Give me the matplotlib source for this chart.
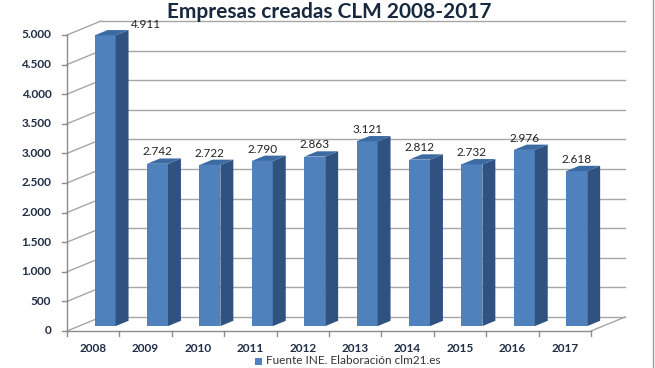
import matplotlib
matplotlib.use("Agg")
import matplotlib.pyplot as plt
from matplotlib.patches import Polygon, Rectangle

years = ["2008", "2009", "2010", "2011", "2012", "2013", "2014", "2015", "2016", "2017"]
empresas = [4911, 2742, 2722, 2790, 2863, 3121, 2812, 2732, 2976, 2618]
yticks = [0, 500, 1000, 1500, 2000, 2500, 3000, 3500, 4000, 4500, 5000]
ytick_labels = ["0", "500", "1.000", "1.500", "2.000", "2.500", "3.000",
                "3.500", "4.000", "4.500", "5.000"]
title = "Empresas creadas CLM 2008-2017"
legend_label = "Fuente INE. Elaboración clm21.es"

FRONT = "#4F81BD"
SIDE = "#2F5280"
TOP = "#3C6AA3"
GRID = "#A6A6A6"
AXIS = "#8C8C8C"
TXT = "#1F2D45"
FONT = ["Lato", "DejaVu Sans"]

# 3D look: depth offset of the back wall, in data units
DX, DY = 0.65, 236
F = 0.35   # bar front position within the depth
G = 0.38   # bar depth fraction
W = 0.4    # bar width

fig = plt.figure(figsize=(6.55, 3.68), dpi=100)
ax = fig.add_axes([0, 0, 1, 1])
ax.set_xlim(-1.7786, 10.7214)
ax.set_ylim(-625, 5591)
ax.axis("off")

n = len(years)
x0, x1 = -0.5, n - 0.5

# back wall grid + left wall diagonals
for v, lab in zip(yticks, ytick_labels):
    ax.plot([x0 + DX, x1 + DX], [v + DY, v + DY], color=GRID, lw=1.0, zorder=1)
    ax.plot([x0, x0 + DX], [v, v + DY], color=GRID, lw=1.0, zorder=1)
    ax.plot([x0 - 0.09, x0], [v, v], color=AXIS, lw=1.0, zorder=1)
    ax.text(x0 - 0.3, v, lab, ha="right", va="center",
            fontsize=8.5, fontweight="bold", color=TXT, family=FONT)

# floor + front axis
ax.plot([x0, x1], [0, 0], color=AXIS, lw=1.0, zorder=2)
ax.plot([x1, x1 + DX], [0, DY], color=GRID, lw=1.0, zorder=2)
ax.plot([x0, x0], [0, yticks[-1]], color=AXIS, lw=1.0, zorder=2)
for i in range(n + 1):
    ax.plot([x0 + i, x0 + i], [0, -90], color=AXIS, lw=1.0, zorder=2)

for i, (yr, v) in enumerate(zip(years, empresas)):
    bx = i - W / 2 + F * DX
    by = F * DY
    ax.bar(bx, v, width=W, bottom=by, align="edge", color=FRONT, zorder=3,
           linewidth=0)
    side = [(bx + W, by), (bx + W + G * DX, by + G * DY),
            (bx + W + G * DX, by + v + G * DY), (bx + W, by + v)]
    ax.add_patch(Polygon(side, closed=True, fc=SIDE, ec="none", zorder=3))
    top = [(bx, by + v), (bx + W, by + v), (bx + W + G * DX, by + v + G * DY),
           (bx + G * DX, by + v + G * DY)]
    ax.add_patch(Polygon(top, closed=True, fc=TOP, ec="none", zorder=3))
    lab = f"{v:,}".replace(",", ".")
    if v == max(empresas):
        ax.text(bx + W + G * DX + 0.04, by + v + 190, lab, ha="left", va="center",
                fontsize=8.5, color="#222222", family=FONT, zorder=4)
    else:
        ax.text(bx + W / 2, by + v + 200, lab, ha="center", va="center",
                fontsize=8.5, color="#222222", family=FONT, zorder=4)
    ax.text(i, -300, yr, ha="center", va="center", fontsize=8.5,
            fontweight="bold", color=TXT, family=FONT)

fig.text(0.503, 0.967, title, ha="center", va="center", fontsize=15,
         fontweight="bold", color="#17283F", family=FONT)

# frame edge on the right
fig.add_artist(plt.Line2D([653 / 655, 653 / 655], [0, 1], transform=fig.transFigure,
                          color="#9A9A9A", lw=1.0))

# legend at the bottom edge
fig.patches.append(Rectangle((255 / 655, 3 / 368), 7 / 655, 7 / 368,
                             transform=fig.transFigure, fc=FRONT, ec="none"))
fig.text(266 / 655, 7 / 368, legend_label, ha="left", va="center",
         fontsize=8.5, color="#333333", family=FONT)

fig.savefig("out.png", dpi=100)
